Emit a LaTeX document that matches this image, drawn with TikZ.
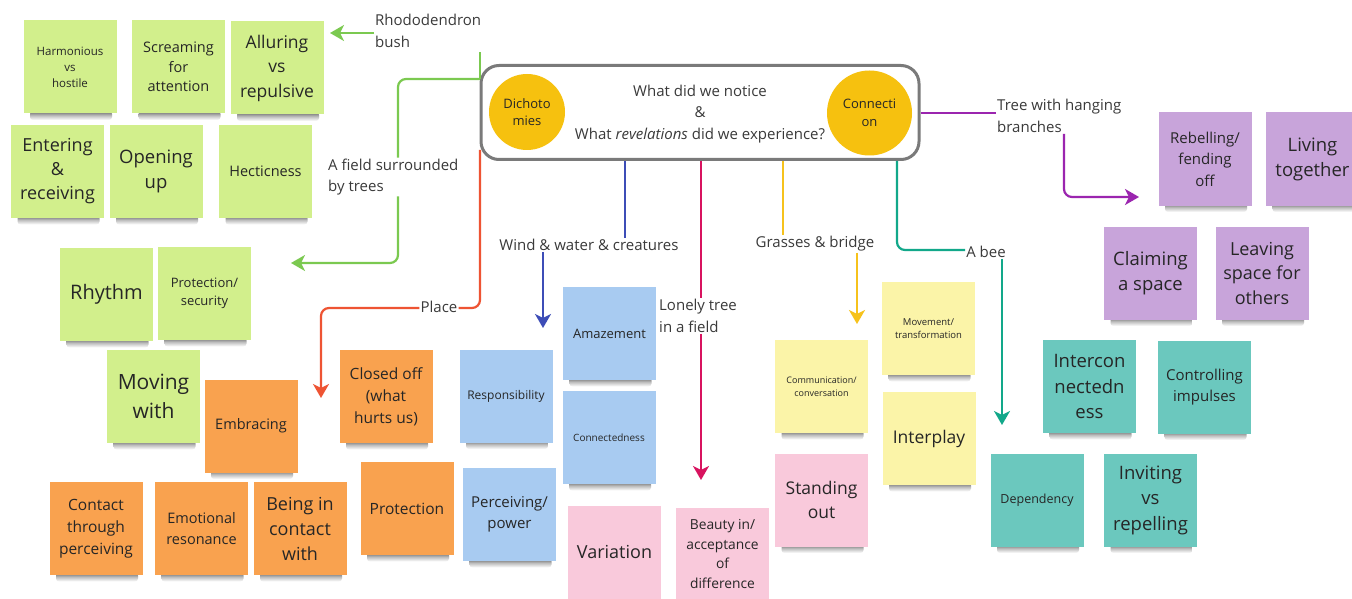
\documentclass[tikz,border=0pt]{standalone}
\usepackage{fontspec}
\setmainfont{Open Sans}
\usetikzlibrary{arrows.meta}
\newcommand\F[2]{\fontsize{#1}{#2}\selectfont}
\definecolor{ngreen}{HTML}{D2EF8C}
\definecolor{norange}{HTML}{F9A24F}
\definecolor{nblue}{HTML}{A8CBF1}
\definecolor{npink}{HTML}{F9C9DB}
\definecolor{nyellow}{HTML}{FBF4A8}
\definecolor{nteal}{HTML}{6BC8BE}
\definecolor{npurple}{HTML}{C8A4DA}
\definecolor{circ}{HTML}{F6C10F}
\definecolor{framec}{HTML}{7A7A7A}
\definecolor{txt}{HTML}{262626}
\definecolor{lblc}{HTML}{3A3A3A}
\definecolor{cgreen}{HTML}{7BC950}
\definecolor{cred}{HTML}{EE5433}
\definecolor{cblue}{HTML}{3D4DB7}
\definecolor{cmag}{HTML}{D8135F}
\definecolor{cyel}{HTML}{F6C21C}
\definecolor{cteal}{HTML}{12A88A}
\definecolor{cpurp}{HTML}{9B25AF}
\tikzset{
  note/.style={minimum width=93pt, minimum height=93pt, inner sep=0pt, align=center, text=txt},
  noteshadow/.style={top color=black!60, bottom color=white, middle color=black!25, rounded corners=3pt},
  lbl/.style={text=lblc, inner sep=1pt},
  conn/.style={line width=2.2pt, rounded corners=8pt},
  tip/.style={-{Stealth[length=14pt,width=16pt,inset=4pt]}}
}
% sticky note: name, x, y, colour, font, text
\newcommand\stick[6]{%
  \shade[noteshadow] (#2-40,#3+44) rectangle (#2+42,#3+53);
  \node[note,fill=#4,font=#5] (#1) at (#2,#3) {#6};}
\begin{document}
\begin{tikzpicture}[x=1pt,y=-1pt]
\path[use as bounding box] (0,0) rectangle (1352,599);
\clip (0,0) rectangle (1352,599);
\fill[white] (0,0) rectangle (1352,599);

% green notes
\stick{harm}{70}{67}{ngreen}{\F{11.5}{16}}{Harmonious\\vs\\hostile}
\stick{scream}{178.5}{67}{ngreen}{\F{14.5}{19.5}}{Screaming\\for\\attention}
\stick{allur}{277}{68}{ngreen}{\F{17.5}{24.5}}{Alluring\\vs\\repulsive}
\stick{enter}{57.5}{171.5}{ngreen}{\F{18}{24}}{Entering\\\&\\receiving}
\stick{open}{156}{171.5}{ngreen}{\F{18.5}{25}}{Opening\\up}
\stick{hectic}{265.5}{171.5}{ngreen}{\F{14.5}{20}}{Hecticness}
\stick{rhythm}{106.5}{294.5}{ngreen}{\F{20}{27}}{Rhythm}
\stick{protsec}{204.5}{293.5}{ngreen}{\F{13}{18.5}}{Protection/\\security}
\stick{moving}{153.5}{396.5}{ngreen}{\F{21}{29}}{Moving\\with}

% orange notes
\stick{embr}{251}{426}{norange}{\F{14.5}{20}}{Embracing}
\stick{closed}{386}{396.5}{norange}{\F{15.5}{22}}{Closed off\\(what\\hurts us)}
\stick{contact}{96}{528.5}{norange}{\F{15.5}{22}}{Contact\\through\\perceiving}
\stick{emot}{201.5}{528.5}{norange}{\F{14.5}{20.5}}{Emotional\\resonance}
\stick{being}{300}{528.5}{norange}{\F{18}{25}}{Being in\\contact\\with}
\stick{prot}{407}{508.5}{norange}{\F{15.5}{21}}{Protection}

% blue notes
\stick{resp}{506}{396}{nblue}{\F{12}{17}}{Responsibility}
\stick{amaz}{609.5}{333.5}{nblue}{\F{13}{18}}{Amazement}
\stick{connd}{609}{437.5}{nblue}{\F{10}{14}}{Connectedness}
\stick{perc}{509.5}{514.5}{nblue}{\F{15}{21}}{Perceiving/\\power}

% pink notes
\stick{var}{614.5}{552}{npink}{\F{18}{25}}{Variation}
\stick{beauty}{722.5}{554}{npink}{\F{13.8}{19.7}}{Beauty in/\\acceptance\\of\\difference}
\stick{stand}{821.5}{500}{npink}{\F{17.5}{24}}{Standing\\out}

% yellow notes
\stick{comm}{821.5}{386.5}{nyellow}{\F{9}{12.5}}{Communication/\\conversation}
\stick{movt}{928.5}{328.5}{nyellow}{\F{9.5}{13}}{Movement/\\transformation}
\stick{inter}{929}{438.5}{nyellow}{\F{17.5}{24}}{Interplay}

% teal notes
\stick{icon}{1089.5}{386.5}{nteal}{\F{18.5}{25.5}}{Intercon\\nectedn\\ess}
\stick{ctrl}{1204.5}{387}{nteal}{\F{15}{20.5}}{Controlling\\impulses}
\stick{dep}{1037}{500}{nteal}{\F{12.5}{17}}{Dependency}
\stick{invit}{1150.5}{500}{nteal}{\F{18.5}{25.5}}{Inviting\\vs\\repelling}

% purple notes
\stick{rebel}{1205}{159}{npurple}{\F{15}{21.5}}{Rebelling/\\fending\\off}
\stick{living}{1312.5}{159}{npurple}{\F{18.5}{25}}{Living\\together}
\stick{claim}{1150.5}{273}{npurple}{\F{18.5}{25.5}}{Claiming\\a space}
\stick{leave}{1262}{273}{npurple}{\F{18}{24.5}}{Leaving\\space for\\others}

% central box
\node[draw=framec, line width=3pt, rounded corners=18pt, minimum width=438pt, minimum height=94pt, fill=white] (box) at (700,112.5) {};
\node[circle, fill=circ, minimum size=76pt, inner sep=0pt, align=center, text=txt, font=\F{13}{17}] (dich) at (527,112) {Dichoto\\mies};
\node[circle, fill=circ, minimum size=85pt, inner sep=0pt, align=center, text=txt, font=\F{13}{18.5}] (conn) at (869.5,113) {Connecti\\on};
\node[lbl, align=center, font=\F{15}{21.5}] (q) at (700,114) {What did we notice\\\&\\What \textit{revelations} did we experience?};

% labels
\node[lbl, anchor=west, align=left, font=\F{15}{22}] (rhodo) at (374,31) {Rhododendron\\bush};
\node[lbl, anchor=west, align=left, font=\F{15}{21.5}] (field) at (327,177) {A field surrounded\\by trees};
\node[lbl, font=\F{15}{21}] (place) at (439,307) {Place};
\node[lbl, font=\F{15}{21}] (wind) at (589,245) {Wind \& water \& creatures};
\node[lbl, anchor=west, align=left, font=\F{15}{22}] (lonely) at (658,316) {Lonely tree\\in a field};
\node[lbl, font=\F{15}{21}] (grass) at (815,244) {Grasses \& bridge};
\node[lbl, font=\F{15}{21}] (bee) at (986,252) {A bee};
\node[lbl, anchor=west, align=left, font=\F{15}{22}] (tree) at (996,116) {Tree with hanging\\branches};

% connectors
\coordinate (g0) at (480,79);
\draw[conn,cgreen] (g0) -- (480,52);
\draw[conn,cgreen,tip] (rhodo.west |- 0,33) -- (330,33);
\draw[conn,cgreen] (g0) -- (398,79) -- (field.north -| 398,0);
\draw[conn,cgreen,tip] (field.south -| 398,0) -- (398,263) -- (291,263);

\draw[conn,cred] (480,150) -- (480,308) -- (place.east |- 0,308);
\draw[conn,cred,tip] (place.west |- 0,308) -- (321,308) -- (321,398);

\draw[conn,cblue] (box.south -| 625,0) -- (wind.north -| 625,0);
\draw[conn,cblue,tip] (wind.south -| 543,0) -- (543,328);

\draw[conn,cmag] (box.south -| 701,0) -- (lonely.north -| 701,0);
\draw[conn,cmag,tip] (lonely.south -| 701,0) -- (701,480);

\draw[conn,cyel] (box.south -| 783,0) -- (grass.north -| 783,0);
\draw[conn,cyel,tip] (grass.south -| 857,0) -- (857,324);

\draw[conn,cteal] (box.south -| 897,0) -- (897,250) -- (bee.west |- 0,250);
\draw[conn,cteal,tip] (bee.south -| 1002,0) -- (1002,425);

\draw[conn,cpurp] (box.east |- 0,113) -- (tree.west |- 0,113);
\draw[conn,cpurp,tip] (tree.south -| 1064,0) -- (1064,197) -- (1139,197);
\end{tikzpicture}
\end{document}
